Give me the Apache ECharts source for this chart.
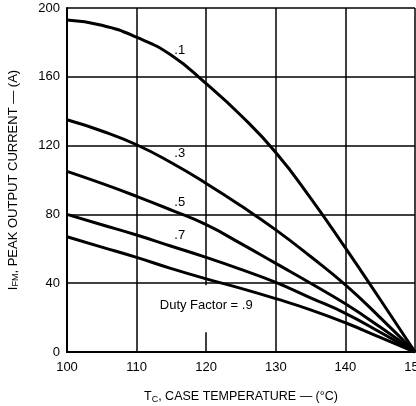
<!DOCTYPE html>
<html>
<head>
<meta charset="utf-8">
<script src="https://cdn.jsdelivr.net/npm/echarts@6/dist/echarts.min.js"></script>
<style>
  html, body { margin: 0; padding: 0; background: #fff; }
  #chart { width: 416px; height: 406px; }
</style>
</head>
<body>
<div id="chart"></div>
<script>
  var temps = [100, 105, 110, 115, 120, 125, 130, 135, 140, 145, 150];
  var duty1 = [193, 190, 183, 172.5, 156, 137.5, 116, 89.5, 60.5, 30.5, 0];
  var duty3 = [135, 128.5, 120.5, 110, 98, 85, 71, 55.5, 39, 20, 0];
  var duty5 = [105, 98, 90.5, 82.5, 74, 63, 51.5, 40, 28, 14.5, 0];
  var duty7 = [80, 74, 68, 61.5, 55, 48, 40.5, 31.5, 22.5, 11.5, 0];
  var duty9 = [67, 61, 55, 48.5, 42.5, 37, 31, 24.5, 17, 8.5, 0];
  var dutyNames = ['.1', '.3', '.5', '.7', 'Duty Factor = .9'];
  var labelTemp = [116.2, 116.2, 116.2, 116.2, 120];
  var labelValue = [175.5, 115.5, 87, 68, 27.3];
  var xTicks = [100, 110, 120, 130, 140, 150];
  var yTicks = [0, 40, 80, 120, 160, 200];

  var chart = echarts.init(document.getElementById('chart'));
  var font = 'Liberation Sans, Arial, sans-serif';
  var allData = [duty1, duty3, duty5, duty7, duty9];

  var series = allData.map(function (vals, i) {
    return {
      name: dutyNames[i],
      type: 'line',
      smooth: 0.5,
      symbol: 'none',
      lineStyle: { color: '#000', width: 3 },
      data: temps.map(function (t, j) { return [t, vals[j]]; }),
      markPoint: {
        symbol: 'circle',
        symbolSize: 0,
        label: {
          show: true,
          formatter: dutyNames[i],
          color: '#000',
          fontFamily: font,
          fontSize: 13
        },
        data: [{ coord: [labelTemp[i], labelValue[i]] }]
      }
    };
  });

  chart.setOption({
    animation: false,
    backgroundColor: '#fff',
    grid: { left: 67, right: 1, top: 8, bottom: 54, outerBoundsMode: 'none', containLabel: false },
    xAxis: {
      type: 'value',
      min: 100,
      max: 150,
      interval: 10,
      name: '{m|T}{s|C}{m|, CASE TEMPERATURE — (°C)}',
      nameLocation: 'middle',
      nameGap: 38,
      nameTextStyle: {
        rich: {
          m: { fontFamily: font, fontSize: 12.5, color: '#000' },
          s: { fontFamily: font, fontSize: 9, color: '#000', padding: [5, 0, 0, 0] }
        }
      },
      axisLine: { lineStyle: { color: '#000', width: 2 } },
      axisTick: { show: false },
      axisLabel: {
        color: '#000', fontFamily: font, fontSize: 13, margin: 9,
        formatter: function (v) { return xTicks.indexOf(v) >= 0 ? String(v) : ''; }
      },
      splitLine: { show: true, lineStyle: { color: '#000', width: 1.5 } }
    },
    yAxis: {
      type: 'value',
      min: 0,
      max: 200,
      interval: 40,
      name: '{m|I}{s|FM}{m|, PEAK OUTPUT CURRENT — (A)}',
      nameLocation: 'middle',
      nameRotate: 90,
      nameGap: 47,
      nameTextStyle: {
        rich: {
          m: { fontFamily: font, fontSize: 13, color: '#000' },
          s: { fontFamily: font, fontSize: 9, color: '#000', padding: [5, 0, 0, 0] }
        }
      },
      axisLine: { show: true, lineStyle: { color: '#000', width: 2 } },
      axisTick: { show: false },
      axisLabel: {
        color: '#000', fontFamily: font, fontSize: 13, margin: 7,
        formatter: function (v) { return yTicks.indexOf(v) >= 0 ? String(v) : ''; }
      },
      splitLine: { show: true, lineStyle: { color: '#000', width: 1.5 } }
    },
    series: series
  });

  // white gap in the 120 grid line behind the duty factor note
  var p1 = chart.convertToPixel({ gridIndex: 0 }, [120, 40]);
  var p2 = chart.convertToPixel({ gridIndex: 0 }, [120, 11.5]);
  chart.setOption({
    graphic: [{
      type: 'rect',
      z: 1,
      shape: { x: p1[0] - 3, y: p1[1] + 2, width: 6, height: p2[1] - p1[1] - 2 },
      style: { fill: '#fff' }
    }]
  });
</script>
</body>
</html>
